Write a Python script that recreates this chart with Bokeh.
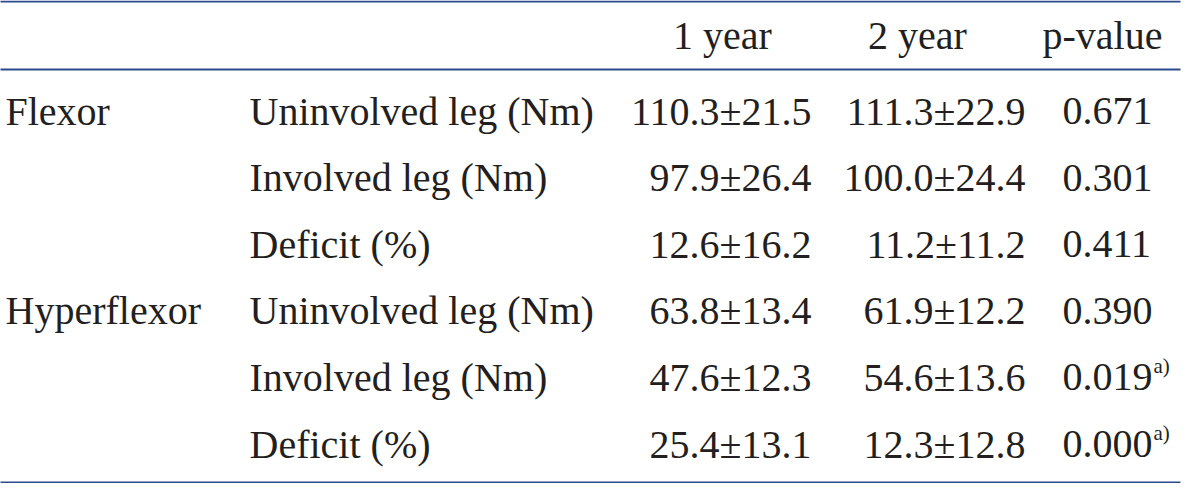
from bokeh.plotting import figure
from bokeh.models import ColumnDataSource, Range1d
from bokeh.core.properties import value
from bokeh.embed import file_html
from bokeh.resources import INLINE

# ---- data ----
header = ["1 year", "2 year", "p-value"]
groups = ["Flexor", "", "", "Hyperflexor", "", ""]
measures = ["Uninvolved leg (Nm)", "Involved leg (Nm)", "Deficit (%)",
            "Uninvolved leg (Nm)", "Involved leg (Nm)", "Deficit (%)"]
mean_1yr = [110.3, 97.9, 12.6, 63.8, 47.6, 25.4]
sd_1yr = [21.5, 26.4, 16.2, 13.4, 12.3, 13.1]
mean_2yr = [111.3, 100.0, 11.2, 61.9, 54.6, 12.3]
sd_2yr = [22.9, 24.4, 11.2, 12.2, 13.6, 12.8]
p_values = [0.671, 0.301, 0.411, 0.390, 0.019, 0.000]
significant = [False, False, False, False, True, True]
footnote_mark = "a)"

# ---- layout / style ----
FONT = value("Liberation Serif")
FS = 40
TXT = "#231f20"
RULE = "#2d4a8c"

top_rule, head_rule, bottom_rule = 9, 77, 490
rule_x0, rule_x1 = 5, 1188
header_y = 43
row0, row_step = 118.5, 66.6

x_group, x_label = 13, 257
x_y1_right, x_y2_right, x_p_left = 819, 1033, 1070
hdr_x = [730, 925, 1110]

row_y = [row0 + i * row_step for i in range(len(measures))]

# data coordinates equal page pixel coordinates (8px body margin)
p = figure(width=1184, height=483, output_backend="svg", toolbar_location=None,
           x_range=Range1d(8, 1192), y_range=Range1d(491, 8),
           min_border=0, background_fill_color="white", border_fill_color="white")
p.axis.visible = False
p.grid.visible = False
p.outline_line_color = None

# rules
p.segment(x0=[rule_x0] * 3, x1=[rule_x1] * 3,
          y0=[top_rule, head_rule, bottom_rule], y1=[top_rule, head_rule, bottom_rule],
          line_color=RULE, line_width=2.2)

def txt(xs, ys, texts, align, size=FS):
    src = ColumnDataSource(dict(x=xs, y=ys, t=texts))
    p.text(x="x", y="y", text="t", source=src, text_font=FONT,
           text_font_size=value(f"{size}px"), text_align=align,
           text_baseline="middle", text_color=TXT)

# header
txt(hdr_x, [header_y] * 3, header, "center")
# group and measure labels
txt([x_group] * len(groups), row_y, groups, "left")
txt([x_label] * len(measures), row_y, measures, "left")
# values
txt([x_y1_right] * len(measures), row_y,
    [f"{m:.1f}±{s:.1f}" for m, s in zip(mean_1yr, sd_1yr)], "right")
txt([x_y2_right] * len(measures), row_y,
    [f"{m:.1f}±{s:.1f}" for m, s in zip(mean_2yr, sd_2yr)], "right")
txt([x_p_left] * len(measures), row_y, [f"{v:.3f}" for v in p_values], "left")
# footnote superscripts
sup_x = [x_p_left + 2.25 * FS + 1 for s in significant if s]
sup_y = [y - 11 for y, s in zip(row_y, significant) if s]
txt(sup_x, sup_y, [footnote_mark] * len(sup_x), "left", size=21)

open("out.html", "w").write(file_html(p, INLINE))
